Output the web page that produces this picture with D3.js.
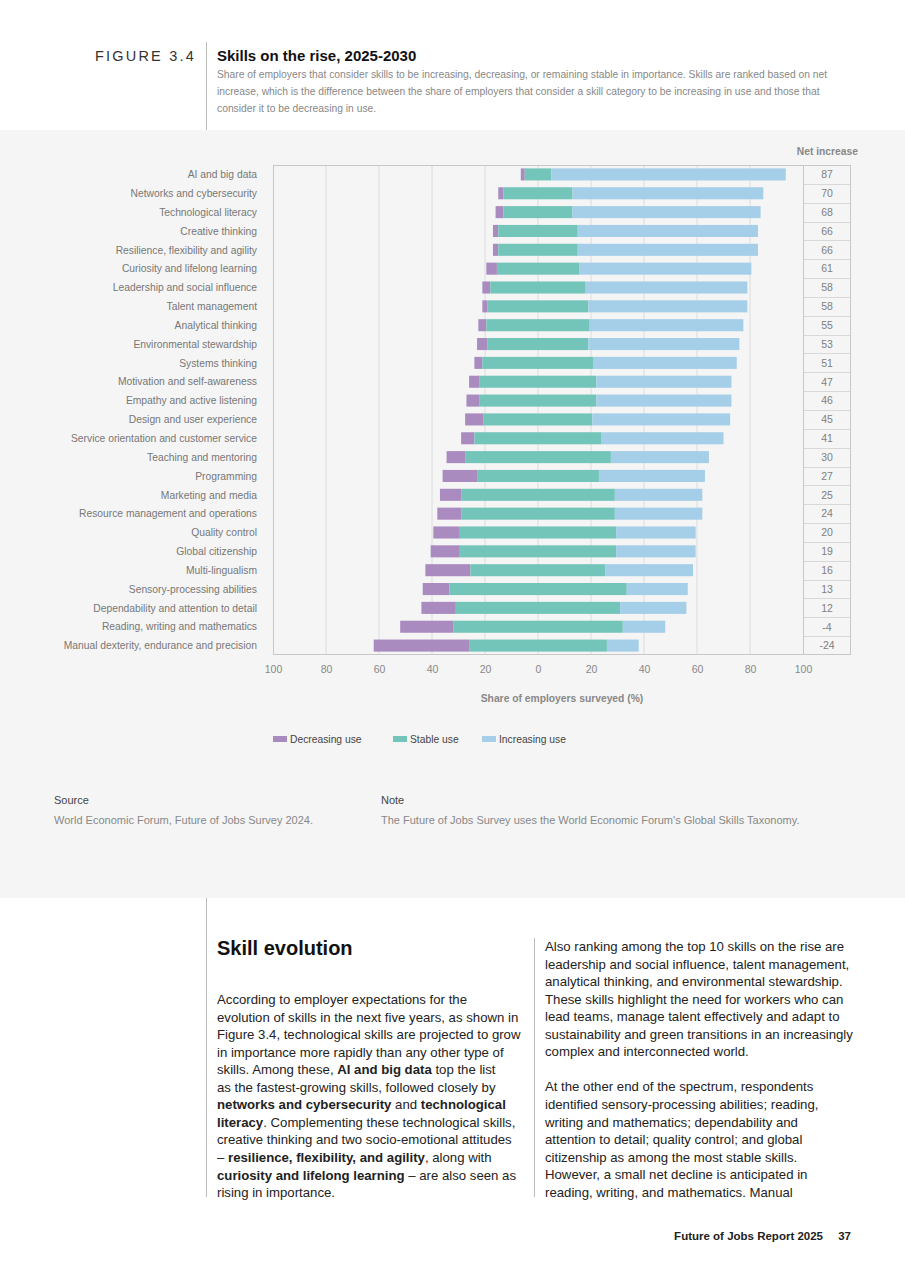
<!DOCTYPE html>
<html>
<head>
<meta charset="utf-8">
<script src="https://cdn.jsdelivr.net/npm/d3@7"></script>
<style>
  body { margin: 0; background: #fff; }
  svg { display: block; font-family: "Liberation Sans", Arial, sans-serif; }
</style>
</head>
<body>
<script>
// Data
var skills = [
  "AI and big data", "Networks and cybersecurity", "Technological literacy",
  "Creative thinking", "Resilience, flexibility and agility", "Curiosity and lifelong learning",
  "Leadership and social influence", "Talent management", "Analytical thinking",
  "Environmental stewardship", "Systems thinking", "Motivation and self-awareness",
  "Empathy and active listening", "Design and user experience",
  "Service orientation and customer service", "Teaching and mentoring", "Programming",
  "Marketing and media", "Resource management and operations", "Quality control",
  "Global citizenship", "Multi-lingualism", "Sensory-processing abilities",
  "Dependability and attention to detail", "Reading, writing and mathematics",
  "Manual dexterity, endurance and precision"
];
var decreasing  = [1.5, 2, 3, 2, 2, 4, 3, 2, 3, 4, 3, 4, 5, 7, 5, 7, 13, 8, 9, 10, 11, 17, 10, 13, 20, 36];
var stable      = [10, 26, 26, 30, 30, 31, 36, 38, 39, 38, 42, 44, 44, 41, 48, 55, 46, 58, 58, 59, 59, 51, 67, 62, 64, 52];
var increasing  = [88.5, 72, 71, 68, 68, 65, 61, 60, 58, 57, 54, 51, 51, 52, 46, 37, 40, 33, 33, 30, 30, 33, 23, 25, 16, 12];
var netIncrease = [87, 70, 68, 66, 66, 61, 58, 58, 55, 53, 51, 47, 46, 45, 41, 30, 27, 25, 24, 20, 19, 16, 13, 12, -4, -24];
var xTicks = [-100, -80, -60, -40, -20, 0, 20, 40, 60, 80, 100];
var seriesNames = ["Decreasing use", "Stable use", "Increasing use"];

var colors = { dec: "#a98bbf", sta: "#74c5b9", inc: "#a5cee8" };

// body text, one entry per printed line: [text, bold]
var col1Lines = [
  [["According to employer expectations for the", 0]],
  [["evolution of skills in the next five years, as shown in", 0]],
  [["Figure 3.4, technological skills are projected to grow", 0]],
  [["in importance more rapidly than any other type of", 0]],
  [["skills. Among these, ", 0], ["AI and big data", 1], [" top the list", 0]],
  [["as the fastest-growing skills, followed closely by", 0]],
  [["networks and cybersecurity", 1], [" and ", 0], ["technological", 1]],
  [["literacy", 1], [". Complementing these technological skills,", 0]],
  [["creative thinking and two socio-emotional attitudes", 0]],
  [["– ", 0], ["resilience, flexibility, and agility", 1], [", along with", 0]],
  [["curiosity and lifelong learning", 1], [" – are also seen as", 0]],
  [["rising in importance.", 0]]
];
var col2Lines = [
  [["Also ranking among the top 10 skills on the rise are", 0]],
  [["leadership and social influence, talent management,", 0]],
  [["analytical thinking, and environmental stewardship.", 0]],
  [["These skills highlight the need for workers who can", 0]],
  [["lead teams, manage talent effectively and adapt to", 0]],
  [["sustainability and green transitions in an increasingly", 0]],
  [["complex and interconnected world.", 0]],
  [],
  [["At the other end of the spectrum, respondents", 0]],
  [["identified sensory-processing abilities; reading,", 0]],
  [["writing and mathematics; dependability and", 0]],
  [["attention to detail; quality control; and global", 0]],
  [["citizenship as among the most stable skills.", 0]],
  [["However, a small net decline is anticipated in", 0]],
  [["reading, writing, and mathematics. Manual", 0]]
];

function draw() {
  var rows = skills.map(function(s, i) {
    return { name: s, dec: decreasing[i], sta: stable[i], inc: increasing[i], net: netIncrease[i] };
  });

  var W = 905, H = 1280;
  var svg = d3.select("body").append("svg").attr("width", W).attr("height", H);

  // grey panel
  svg.append("rect").attr("x", 0).attr("y", 130).attr("width", W).attr("height", 768).attr("fill", "#f5f5f5");

  // header
  svg.append("text").attr("x", 95).attr("y", 61).attr("font-size", 14.5).attr("letter-spacing", 2.2)
     .attr("fill", "#333").text("FIGURE 3.4");
  svg.append("line").attr("x1", 206.5).attr("x2", 206.5).attr("y1", 42).attr("y2", 130)
     .attr("stroke", "#bbb");
  svg.append("text").attr("x", 217).attr("y", 61).attr("font-size", 15).attr("font-weight", "bold")
     .attr("fill", "#111").text("Skills on the rise, 2025-2030");
  var sub = ["Share of employers that consider skills to be increasing, decreasing, or remaining stable in importance. Skills are ranked based on net",
             "increase, which is the difference between the share of employers that consider a skill category to be increasing in use and those that",
             "consider it to be decreasing in use."];
  svg.selectAll(".sub").data(sub).enter().append("text").attr("class", "sub")
     .attr("x", 217).attr("y", function(d, i) { return 78 + i * 17; })
     .attr("font-size", 10.3).attr("fill", "#888").text(function(d) { return d; });

  // chart geometry
  var cLeft = 273, zeroRight = 803, cRight = 851, cTop = 165, cBottom = 655;
  var x = d3.scaleLinear().domain([-100, 100]).range([cLeft, zeroRight]);
  var y = d3.scaleBand().domain(skills).range([cTop, cBottom]).paddingInner(0.36).paddingOuter(0.18);
  var step = y.step();

  var g = svg.append("g");

  // grid lines
  g.selectAll(".grid").data(xTicks.slice(1, -1)).enter().append("line")
    .attr("x1", function(d) { return x(d); }).attr("x2", function(d) { return x(d); })
    .attr("y1", cTop).attr("y2", cBottom).attr("stroke", "#dcdcdc");

  // bars
  var bars = g.selectAll(".row").data(rows).enter().append("g")
    .attr("transform", function(d) { return "translate(0," + y(d.name) + ")"; });
  bars.append("rect")
    .attr("x", function(d) { return x(-d.sta / 2 - d.dec); })
    .attr("width", function(d) { return x(-d.sta / 2) - x(-d.sta / 2 - d.dec); })
    .attr("height", y.bandwidth()).attr("fill", colors.dec);
  bars.append("rect")
    .attr("x", function(d) { return x(-d.sta / 2); })
    .attr("width", function(d) { return x(d.sta / 2) - x(-d.sta / 2); })
    .attr("height", y.bandwidth()).attr("fill", colors.sta);
  bars.append("rect")
    .attr("x", function(d) { return x(d.sta / 2); })
    .attr("width", function(d) { return x(d.sta / 2 + d.inc) - x(d.sta / 2); })
    .attr("height", y.bandwidth()).attr("fill", colors.inc);

  // net increase column
  g.selectAll(".sep").data(skills.slice(1)).enter().append("line")
    .attr("x1", zeroRight).attr("x2", cRight)
    .attr("y1", function(d) { return Math.round(y(d) - step * 0.18) + 0.5; })
    .attr("y2", function(d) { return Math.round(y(d) - step * 0.18) + 0.5; })
    .attr("stroke", "#d8d8d8");
  g.append("line").attr("x1", zeroRight + 0.5).attr("x2", zeroRight + 0.5)
    .attr("y1", cTop).attr("y2", cBottom).attr("stroke", "#c8c8c8");
  g.selectAll(".net").data(rows).enter().append("text")
    .attr("x", (zeroRight + cRight) / 2)
    .attr("y", function(d) { return y(d.name) + y.bandwidth() / 2; })
    .attr("dy", "0.36em").attr("text-anchor", "middle")
    .attr("font-size", 10.5).attr("fill", "#808080").text(function(d) { return d.net; });
  svg.append("text").attr("x", 858).attr("y", 155).attr("text-anchor", "end")
    .attr("font-size", 10.3).attr("font-weight", "bold").attr("fill", "#888").text("Net increase");

  // frame
  g.append("rect").attr("x", cLeft + 0.5).attr("y", cTop + 0.5)
    .attr("width", cRight - cLeft - 1).attr("height", cBottom - cTop - 1)
    .attr("fill", "none").attr("stroke", "#c8c8c8");

  // category labels
  g.selectAll(".lab").data(skills).enter().append("text")
    .attr("x", 257).attr("y", function(d) { return y(d) + y.bandwidth() / 2; })
    .attr("dy", "0.36em").attr("text-anchor", "end")
    .attr("font-size", 10.3).attr("fill", "#777").text(function(d) { return d; });

  // x axis
  var axis = g.append("g").attr("transform", "translate(0," + (cBottom + 3) + ")")
    .call(d3.axisBottom(x).tickValues(xTicks).tickSize(0).tickPadding(8)
          .tickFormat(function(d) { return Math.abs(d); }));
  axis.select(".domain").remove();
  axis.selectAll("text").attr("font-size", 10.5).attr("fill", "#888")
    .attr("font-family", "Liberation Sans, Arial, sans-serif");
  svg.append("text").attr("x", (cLeft + cRight) / 2).attr("y", 702).attr("text-anchor", "middle")
    .attr("font-size", 10.3).attr("font-weight", "bold").attr("fill", "#888")
    .text("Share of employers surveyed (%)");

  // legend
  var legX = [273, 393, 482];
  var legCol = [colors.dec, colors.sta, colors.inc];
  var leg = svg.selectAll(".leg").data(seriesNames).enter().append("g")
    .attr("transform", function(d, i) { return "translate(" + legX[i] + ",736)"; });
  leg.append("rect").attr("width", 14).attr("height", 6).attr("fill", function(d, i) { return legCol[i]; });
  leg.append("text").attr("x", 17).attr("y", 7).attr("font-size", 10.3).attr("fill", "#444")
    .text(function(d) { return d; });

  // source and note
  svg.append("text").attr("x", 54).attr("y", 804).attr("font-size", 11).attr("fill", "#444").text("Source");
  svg.append("text").attr("x", 54).attr("y", 824).attr("font-size", 11).attr("fill", "#888")
    .text("World Economic Forum, Future of Jobs Survey 2024.");
  svg.append("text").attr("x", 381).attr("y", 804).attr("font-size", 11).attr("fill", "#444").text("Note");
  svg.append("text").attr("x", 381).attr("y", 824).attr("font-size", 11).attr("fill", "#888")
    .text("The Future of Jobs Survey uses the World Economic Forum's Global Skills Taxonomy.");

  // body text
  svg.append("line").attr("x1", 206.5).attr("x2", 206.5).attr("y1", 898).attr("y2", 1197).attr("stroke", "#bbb");
  svg.append("line").attr("x1", 534.5).attr("x2", 534.5).attr("y1", 938).attr("y2", 1197).attr("stroke", "#bbb");
  svg.append("text").attr("x", 217).attr("y", 955).attr("font-size", 20).attr("font-weight", "bold")
    .attr("fill", "#111").text("Skill evolution");

  function writeLines(lines, x0, y0) {
    var t = svg.selectAll(null).data(lines).enter().append("text")
      .attr("x", x0).attr("y", function(d, i) { return y0 + i * 17.55; })
      .attr("font-size", 13.2).attr("fill", "#222");
    t.selectAll("tspan").data(function(d) { return d; }).enter().append("tspan")
      .attr("font-weight", function(d) { return d[1] ? "bold" : "normal"; })
      .text(function(d) { return d[0]; });
  }
  writeLines(col1Lines, 217, 1004);
  writeLines(col2Lines, 545, 951);

  // footer
  svg.append("text").attr("x", 823).attr("y", 1240).attr("text-anchor", "end").attr("font-size", 11.5)
    .attr("font-weight", "bold").attr("fill", "#222").text("Future of Jobs Report 2025");
  svg.append("text").attr("x", 851).attr("y", 1240).attr("text-anchor", "end").attr("font-size", 11.5)
    .attr("font-weight", "bold").attr("fill", "#222").text("37");
}

draw();
</script>
</body>
</html>
